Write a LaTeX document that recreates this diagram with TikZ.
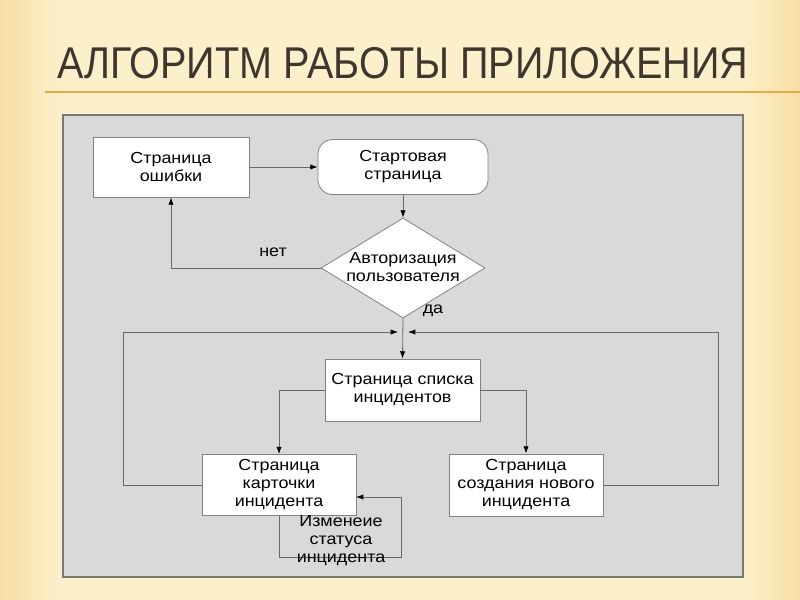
\documentclass[tikz,border=0pt]{standalone}
\usepackage{fontspec}
\setmainfont{Liberation Sans}
\newfontfamily\bodyfont[FakeStretch=1.12]{Liberation Sans}
\newfontfamily\titlefont{Liberation Sans}
\usetikzlibrary{arrows.meta,shapes.geometric}
\definecolor{bgcream}{RGB}{252,240,202}
\definecolor{bgedge}{RGB}{246,222,165}
\definecolor{titlecol}{RGB}{62,55,48}
\definecolor{ruleorange}{RGB}{232,168,70}
\definecolor{panelgray}{RGB}{217,217,217}
\definecolor{panelborder}{RGB}{120,120,120}
\definecolor{linegray}{RGB}{105,105,105}
\definecolor{boxborder}{RGB}{130,130,130}
\tikzset{
  x=0.75pt, y=-0.75pt,
  txt/.style={font=\bodyfont\fontsize{12pt}{13.5pt}\selectfont, align=center, text=black},
  box/.style={txt, draw=boxborder, fill=white, line width=0.6pt, inner sep=2pt},
  rbox/.style={box, rounded corners=11pt},
  decision/.style={diamond, draw=boxborder, fill=white, line width=0.6pt, inner sep=0pt},
  arr/.style={draw=linegray, line width=0.6pt, -{Latex[length=5.5pt,width=4pt,color=black]}},
  lbl/.style={txt, inner sep=0pt}
}
\begin{document}
\begin{tikzpicture}
\shade[left color=bgedge, right color=bgcream] (0,0) rectangle (60,600);
\fill[bgcream] (60,0) rectangle (740,600);
\shade[left color=bgcream, right color=bgedge] (740,0) rectangle (800,600);
\useasboundingbox (0,0) rectangle (800,600);
% title
\node[anchor=base west, inner sep=0pt, text=titlecol] (title) at (57,78)
  {\resizebox{518pt}{23.3pt}{\titlefont АЛГОРИТМ РАБОТЫ ПРИЛОЖЕНИЯ}};
\draw[ruleorange, line width=1.2pt] (45,92) -- (800,92);
% panel
\draw[panelborder, fill=panelgray, line width=0.8pt] (63,115) rectangle (743,577);
% nodes
\node[box, minimum width=117pt, minimum height=45pt] (err) at (171,167) {Страница\\ошибки};
\node[rbox, minimum width=127.5pt, minimum height=41.25pt] (start) at (403,167) {Стартовая\\страница};
\node[decision, minimum width=123pt, minimum height=75pt] (auth) at (403,268) {};
\node[lbl] (authtext) at (403,267) {Авторизация\\пользователя};
\node[box, minimum width=116.25pt, minimum height=46.5pt] (list) at (402.5,390) {Страница списка\\инцидентов};
\node[box, minimum width=115.5pt, minimum height=45.75pt] (card) at (279,485) {Страница\\карточки\\инцидента};
\node[box, minimum width=115.5pt, minimum height=46.5pt] (new) at (526,485) {Страница\\создания нового\\инцидента};
\coordinate (JL) at (398,332);
\coordinate (JR) at (408,332);
\coordinate (ce) at (356,497);
% connectors
\draw[arr] (err.east) -- (start.west);
\draw[arr] (start.south) -- (auth.north);
\draw[arr] (auth.west) -| (err.south);
\draw[arr] (auth.south) -- (list.north);
\draw[arr] (card.west) -- ++(-78,0) |- (JL);
\draw[arr] (new.east) -- ++(115,0) |- (JR);
\draw[arr] (list.west) -| (card.north);
\draw[arr] (list.east) -| (new.north);
\draw[arr] (card.south) |- (401,557) |- (ce);
% labels
\node[lbl] (no) at (273,252) {нет};
\node[lbl] (yes) at (433,311) {да};
\node[lbl] (chg) at (341,541) {Изменеие\\статуса\\инцидента};
\end{tikzpicture}
\end{document}
